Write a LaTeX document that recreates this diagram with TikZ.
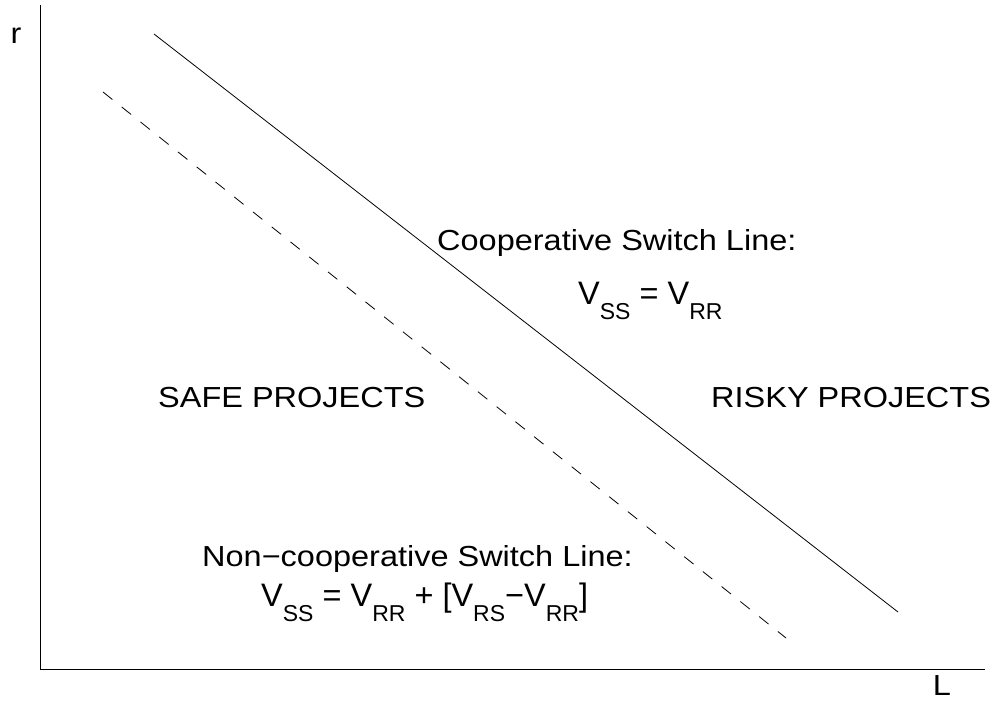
\documentclass[tikz,border=0pt]{standalone}
\usepackage{fontspec}
\setmainfont{Liberation Sans}
\newfontfamily\widefont[FakeStretch=1.12]{Liberation Sans}
\newcommand{\lblsz}{\widefont\fontsize{29}{34}\selectfont}
\newcommand{\eqsz}{\fontsize{32.5}{38}\selectfont}
\newcommand{\sbs}[1]{\raisebox{-15pt}{\fontsize{23}{27}\selectfont #1}}
\begin{document}
\begin{tikzpicture}[x=1pt,y=-1pt,
  axisline/.style={line width=1pt},
  switchline/.style={line width=0.8pt},
  txt/.style={inner sep=0pt,font=\lblsz,anchor=base west},
  eqtxt/.style={inner sep=0pt,font=\eqsz,anchor=base west}]
\useasboundingbox (0,0) rectangle (995,702);
\coordinate (ytop) at (40,5);
\coordinate (orig) at (40,669);
\coordinate (xend) at (985,669);
\draw[axisline] (ytop) -- (orig) -- (xend);
\node[txt,anchor=center] (r) at (16,36) {r};
\node[txt,anchor=center] (L) at (942,686) {L};
\coordinate (cs) at (154,34);
\coordinate (ce) at (898,612);
\draw[switchline] (cs) -- (ce);
\coordinate (ds) at (103,92);
\coordinate (de) at (786,638);
\draw[switchline,dash pattern=on 12pt off 12pt] (ds) -- (de);
\node[txt] (coop) at (437,250) {Cooperative Switch Line:};
\node[eqtxt] (coopeq) at (578,304) {V\sbs{SS} = V\sbs{RR}};
\node[txt] (safe) at (158,407) {SAFE PROJECTS};
\node[txt] (risky) at (711,407) {RISKY PROJECTS};
\node[txt] (ncoop) at (202,566) {Non−cooperative Switch Line:};
\node[eqtxt] (ncoopeq) at (261,606) {V\sbs{SS} = V\sbs{RR} + [V\sbs{RS}−V\sbs{RR}]};
\end{tikzpicture}
\end{document}
